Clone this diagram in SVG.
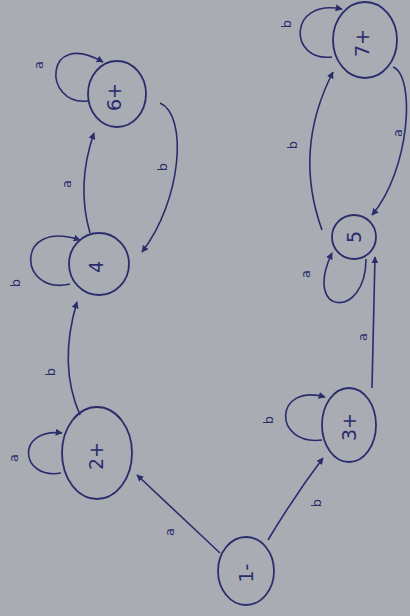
<svg xmlns="http://www.w3.org/2000/svg" width="410" height="616" viewBox="0 0 410 616">
<style>
.bg{fill:#a9acb3}
.node{fill:none;stroke:#2b2c6c;stroke-width:1.8}
.edge{fill:none;stroke:#2b2c6c;stroke-width:1.6;marker-end:url(#ah)}
.nl{font-family:"DejaVu Sans",sans-serif;font-size:19px;fill:#2b2c6c;text-anchor:middle;dominant-baseline:central}
.el{font-family:"DejaVu Sans",sans-serif;font-size:13px;fill:#2b2c6c;text-anchor:middle;dominant-baseline:central}
</style>
<defs>
<marker id="ah" viewBox="0 0 10 10" refX="9" refY="5" markerWidth="7" markerHeight="7" markerUnits="userSpaceOnUse" orient="auto">
<path d="M0,0 L10,5 L0,10 z" fill="#2b2c6c"/>
</marker>
</defs>
<rect class="bg" x="0" y="0" width="410" height="616"/>
<g id="connectors">
<path class="edge" d="M220,553 L137,475"/>
<path class="edge" d="M268,540 Q295,495 323,458"/>
<path class="edge" d="M80,415 Q58,365 77,302"/>
<path class="edge" d="M61,473 C20,480 15,428 62,433"/>
<path class="edge" d="M90,233 Q76,185 94,133"/>
<path class="edge" d="M160,103 C188,115 182,200 142,252"/>
<path class="edge" d="M88,101 C42,106 44,28 103,62"/>
<path class="edge" d="M70,284 C18,296 14,218 80,240"/>
<path class="edge" d="M332,57 C288,62 288,-2 342,9"/>
<path class="edge" d="M393,67 C416,76 410,170 372,215"/>
<path class="edge" d="M322,230 Q293,150 333,72"/>
<path class="edge" d="M366,259 C366,320 302,316 332,253"/>
<path class="edge" d="M372,388 L375,257"/>
<path class="edge" d="M322,440 C273,446 273,383 325,397"/>
</g>
<g id="edge-labels">
<text class="el" x="38" y="65" transform="rotate(-90 38 65)">a</text>
<text class="el" x="66" y="184" transform="rotate(-90 66 184)">a</text>
<text class="el" x="162" y="167" transform="rotate(-90 162 167)">b</text>
<text class="el" x="15" y="283" transform="rotate(-90 15 283)">b</text>
<text class="el" x="50" y="372" transform="rotate(-90 50 372)">b</text>
<text class="el" x="13" y="458" transform="rotate(-90 13 458)">a</text>
<text class="el" x="169" y="532" transform="rotate(-90 169 532)">a</text>
<text class="el" x="316" y="503" transform="rotate(-90 316 503)">b</text>
<text class="el" x="268" y="420" transform="rotate(-90 268 420)">b</text>
<text class="el" x="362" y="337" transform="rotate(-90 362 337)">a</text>
<text class="el" x="305" y="274" transform="rotate(-90 305 274)">a</text>
<text class="el" x="292" y="145" transform="rotate(-90 292 145)">b</text>
<text class="el" x="397" y="133" transform="rotate(-90 397 133)">a</text>
<text class="el" x="286" y="24" transform="rotate(-90 286 24)">b</text>
</g>
<g id="n1"><ellipse class="node" cx="246" cy="571" rx="28" ry="34"/><text class="nl" x="246" y="573" transform="rotate(-90 246 573)">1-</text></g>
<g id="n2"><ellipse class="node" cx="97" cy="453" rx="35" ry="46"/><text class="nl" x="96" y="456" transform="rotate(-90 96 456)">2+</text></g>
<g id="n3"><ellipse class="node" cx="349" cy="425" rx="27" ry="37"/><text class="nl" x="349" y="427" transform="rotate(-90 349 427)">3+</text></g>
<g id="n4"><ellipse class="node" cx="99" cy="264" rx="30" ry="31"/><text class="nl" x="96" y="267" transform="rotate(-90 96 267)">4</text></g>
<g id="n5"><ellipse class="node" cx="354" cy="237" rx="22" ry="22"/><text class="nl" x="354" y="237" transform="rotate(-90 354 237)">5</text></g>
<g id="n6"><ellipse class="node" cx="117" cy="94" rx="29" ry="33"/><text class="nl" x="114" y="97" transform="rotate(-90 114 97)">6+</text></g>
<g id="n7"><ellipse class="node" cx="365" cy="40" rx="32" ry="38"/><text class="nl" x="362" y="43" transform="rotate(-90 362 43)">7+</text></g>
</svg>
